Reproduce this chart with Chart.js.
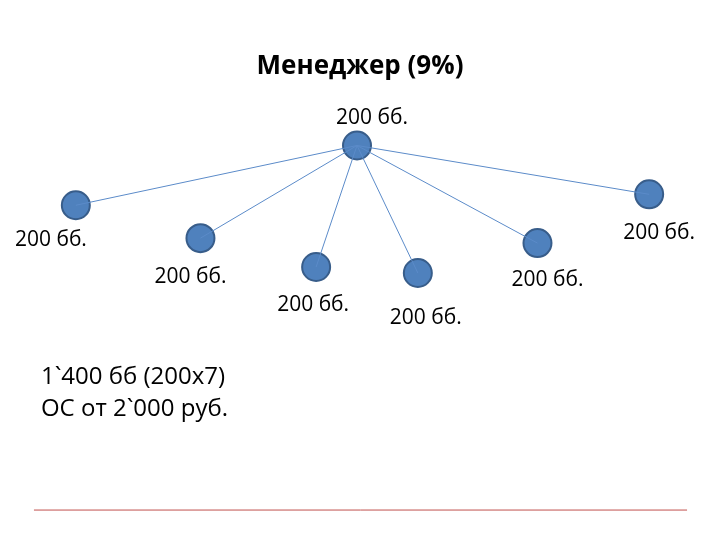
<!DOCTYPE html>
<html><head><meta charset="utf-8">
<script src="https://cdn.jsdelivr.net/npm/chart.js@4"></script>
<style>html,body{margin:0;padding:0;background:#fff}</style>
</head><body>
<canvas id="c" width="720" height="540"></canvas>
<script>
const rootNode = {x: 357, y: 145};
const childX = [75, 200, 316, 418, 538, 650];
const childY = [205, 238, 267, 273, 243, 194];
const labelText = ["200 бб.", "200 бб.", "200 бб.", "200 бб.", "200 бб.", "200 бб.", "200 бб."];
const labelX = [372, 50, 190, 313, 426, 548, 660];
const labelY = [117, 240, 277, 305, 318, 280, 233];
const titleText = "Менеджер (9%)";
const noteLines = ["1`400 бб (200х7)", "ОС от 2`000 руб."];

const datasets = [];
childX.forEach((x, i) => {
  datasets.push({data: [rootNode, {x: x, y: childY[i]}], showLine: true, borderColor: '#5B8BC9',
    borderWidth: 1, pointRadius: 0, pointHoverRadius: 0});
});
datasets.push({data: [rootNode].concat(childX.map((x, i) => ({x: x, y: childY[i]}))),
  showLine: false, pointRadius: 14, backgroundColor: '#4F81BD', borderColor: '#385D8A', borderWidth: 2});

const textPlugin = {
  id: 'txt',
  afterDatasetsDraw(chart) {
    const ctx = chart.ctx, xs = chart.scales.x, ys = chart.scales.y;
    ctx.save();
    ctx.fillStyle = '#000';
    ctx.textBaseline = 'middle';
    ctx.textAlign = 'center';
    ctx.font = 'bold 26px "Open Sans", sans-serif';
    ctx.fillText(titleText, xs.getPixelForValue(360), ys.getPixelForValue(66));
    ctx.font = '21px "Open Sans", sans-serif';
    labelText.forEach((t, i) => ctx.fillText(t, xs.getPixelForValue(labelX[i]), ys.getPixelForValue(labelY[i])));
    ctx.textAlign = 'left';
    ctx.font = '24px "Open Sans", sans-serif';
    noteLines.forEach((t, i) => ctx.fillText(t, xs.getPixelForValue(40), ys.getPixelForValue(378 + i * 32)));
    ctx.strokeStyle = '#C0504D';
    ctx.lineWidth = 1;
    ctx.beginPath();
    ctx.moveTo(xs.getPixelForValue(33), ys.getPixelForValue(511));
    ctx.lineTo(xs.getPixelForValue(688), ys.getPixelForValue(511));
    ctx.stroke();
    ctx.restore();
  }
};

new Chart(document.getElementById('c'), {
  type: 'scatter',
  data: {datasets},
  options: {
    responsive: false, animation: false,
    layout: {padding: 0},
    plugins: {legend: {display: false}, tooltip: {enabled: false}},
    scales: {
      x: {type: 'linear', min: 15, max: 705, display: false},
      y: {type: 'linear', min: 15, max: 525, reverse: true, display: false}
    }
  },
  plugins: [textPlugin]
});
</script>
</body></html>
